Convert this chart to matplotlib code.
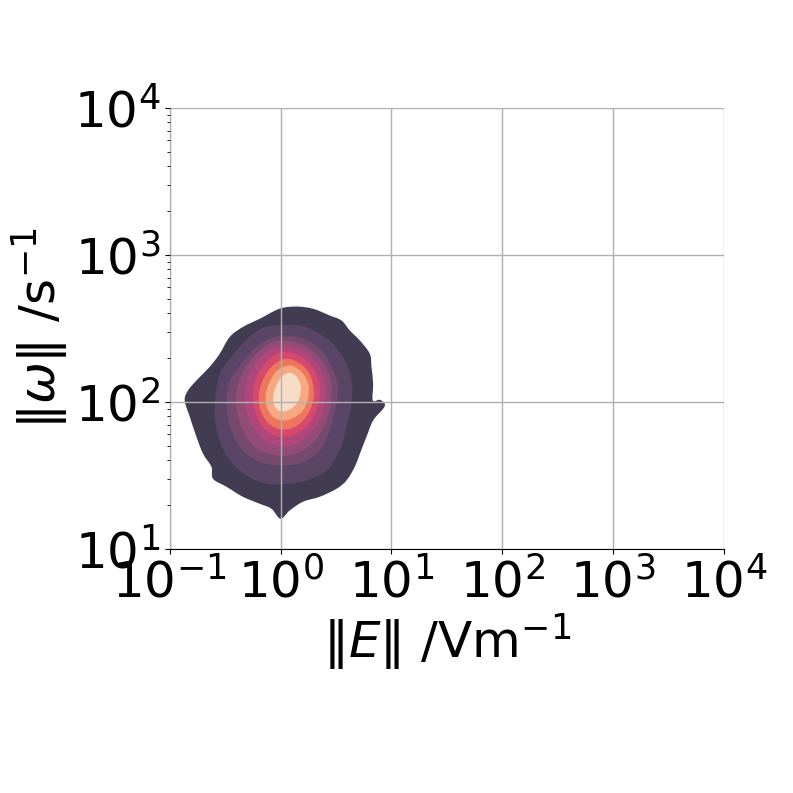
import numpy as np
import matplotlib.pyplot as plt
from matplotlib.path import Path
from matplotlib.patches import PathPatch

# contour outlines of the density plot, log10(|E|) and log10(|omega|), outer -> inner
lvl1_x = [0.143, -0.01, -0.188, -0.338, -0.458, -0.549, -0.639, -0.759, -0.835, -0.865,
          -0.819, -0.759, -0.699, -0.624, -0.609, -0.488, -0.341, -0.188, -0.082, 0.0,
          0.083, 0.203, 0.354, 0.505, 0.595, 0.670, 0.715, 0.775, 0.835, 0.925,
          0.940, 0.895, 0.832, 0.835, 0.820, 0.805, 0.715, 0.625, 0.550, 0.444, 0.293]
lvl1_y = [2.648, 2.633, 2.565, 2.510, 2.442, 2.327, 2.238, 2.145, 2.077, 2.009,
          1.898, 1.762, 1.646, 1.558, 1.476, 1.422, 1.354, 1.306, 1.272, 1.204,
          1.261, 1.320, 1.354, 1.408, 1.465, 1.558, 1.646, 1.762, 1.873, 1.952,
          1.986, 2.014, 2.009, 2.122, 2.238, 2.327, 2.417, 2.485, 2.553, 2.587, 2.633]

lvl2_x = [-0.007, 0.173, 0.324, 0.471, 0.579, 0.640, 0.640, 0.595, 0.534, 0.414, 0.234,
          0.053, -0.127, -0.308, -0.458, -0.549, -0.594, -0.585, -0.533, -0.398, -0.248, -0.127]
lvl2_y = [2.519, 2.519, 2.476, 2.395, 2.281, 2.145, 1.986, 1.830, 1.669, 1.533, 1.465,
          1.442, 1.442, 1.499, 1.601, 1.737, 1.898, 2.054, 2.213, 2.349, 2.463, 2.510]

lvl3_x = [0.023, 0.203, 0.354, 0.444, 0.516, 0.498, 0.444, 0.354, 0.203, 0.023,
          -0.188, -0.338, -0.443, -0.486, -0.468, -0.353, -0.218, -0.097]
lvl3_y = [2.451, 2.429, 2.361, 2.259, 2.122, 1.966, 1.805, 1.669, 1.590, 1.567,
          1.590, 1.669, 1.805, 1.966, 2.122, 2.259, 2.374, 2.429]

lvl4_x = [0.038, 0.200, 0.336, 0.426, 0.462, 0.444, 0.381, 0.264, 0.128, -0.007,
          -0.170, -0.296, -0.377, -0.404, -0.368, -0.278, -0.170, -0.070]
lvl4_y = [2.417, 2.388, 2.313, 2.211, 2.088, 1.952, 1.816, 1.701, 1.646, 1.633,
          1.660, 1.748, 1.884, 2.020, 2.156, 2.272, 2.361, 2.408]

lvl5_x = [0.047, 0.191, 0.309, 0.381, 0.408, 0.390, 0.327, 0.218, 0.101,
          -0.025, -0.152, -0.251, -0.314, -0.323, -0.278, -0.197, -0.079]
lvl5_y = [2.383, 2.354, 2.286, 2.190, 2.075, 1.952, 1.837, 1.748, 1.703,
          1.701, 1.741, 1.830, 1.952, 2.075, 2.197, 2.293, 2.361]

lvl6_x = [0.056, 0.173, 0.273, 0.336, 0.354, 0.327, 0.264, 0.164, 0.047,
          -0.070, -0.170, -0.233, -0.251, -0.224, -0.152, -0.052]
lvl6_y = [2.340, 2.313, 2.252, 2.163, 2.061, 1.952, 1.857, 1.789, 1.762,
          1.776, 1.837, 1.939, 2.048, 2.156, 2.252, 2.320]

lvl7_x = [0.065, 0.164, 0.245, 0.291, 0.300, 0.264, 0.191, 0.092,
          -0.016, -0.115, -0.179, -0.197, -0.170, -0.106, -0.025]
lvl7_y = [2.293, 2.265, 2.211, 2.129, 2.034, 1.939, 1.864, 1.816,
          1.816, 1.857, 1.939, 2.034, 2.129, 2.218, 2.272]

lvl8_x = [0.074, 0.155, 0.218, 0.255, 0.245, 0.200, 0.119, 0.020,
          -0.070, -0.124, -0.134, -0.097, -0.034]
lvl8_y = [2.247, 2.224, 2.177, 2.102, 2.014, 1.939, 1.891, 1.873,
          1.898, 1.966, 2.048, 2.136, 2.211]

lvl9_x = [0.083, 0.146, 0.182, 0.173, 0.128, 0.056, -0.016, -0.061, -0.061, -0.025, 0.020]
lvl9_y = [2.197, 2.170, 2.109, 2.034, 1.973, 1.939, 1.939, 1.986, 2.061, 2.129, 2.177]

level_colors = ["#413c52", "#5b4566", "#764a6f", "#934b78", "#b0467b",
                "#d54a6c", "#ee765c", "#f6a881", "#f9dcc8"]

x_ticks = [1e-1, 1e0, 1e1, 1e2, 1e3, 1e4]
y_ticks = [1e1, 1e2, 1e3, 1e4]

outlines = [(lvl1_x, lvl1_y), (lvl2_x, lvl2_y), (lvl3_x, lvl3_y), (lvl4_x, lvl4_y),
            (lvl5_x, lvl5_y), (lvl6_x, lvl6_y), (lvl7_x, lvl7_y), (lvl8_x, lvl8_y),
            (lvl9_x, lvl9_y)]


def smooth_outline(lx, ly):
    """Closed outline through the read points, drawn as cubic curves (Catmull-Rom handles)."""
    p = np.column_stack([lx, ly])
    prev_p = np.roll(p, 1, axis=0)
    next_p = np.roll(p, -1, axis=0)
    next2_p = np.roll(p, -2, axis=0)
    c1 = p + (next_p - prev_p) / 6
    c2 = next_p - (next2_p - p) / 6
    verts = [p[0]]
    codes = [Path.MOVETO]
    for a, b, e in zip(c1, c2, next_p):
        verts += [a, b, e]
        codes += [Path.CURVE4] * 3
    verts.append(p[0])
    codes.append(Path.CLOSEPOLY)
    # log axes: the curve is laid out in log10 space, so map every vertex back
    return Path(10 ** np.array(verts), codes)


fig = plt.figure(figsize=(7.93, 7.93), dpi=100)
ax = fig.add_axes([0.214, 0.308, 0.699, 0.556])

for (lx, ly), c in zip(outlines, level_colors):
    ax.add_patch(PathPatch(smooth_outline(lx, ly), facecolor=c, lw=0, zorder=1))

ax.set_xscale("log")
ax.set_yscale("log")
ax.set_xlim(1e-1, 1e4)
ax.set_ylim(1e1, 1e4)
ax.set_xticks(x_ticks)
ax.set_yticks(y_ticks)
ax.xaxis.set_minor_locator(plt.NullLocator())

ax.grid(True, which="major", color="#b0b0b0", linewidth=1.0)
ax.set_axisbelow(False)
ax.spines["top"].set_visible(False)
ax.spines["right"].set_visible(False)

ax.tick_params(labelsize=36)
ax.set_xlabel(r"$\|E\|$ /Vm$^{-1}$", fontsize=36, labelpad=2)
ax.set_ylabel(r"$\|\omega\|$ /s$^{-1}$", fontsize=36, labelpad=2)

fig.savefig("out.png", dpi=100)
